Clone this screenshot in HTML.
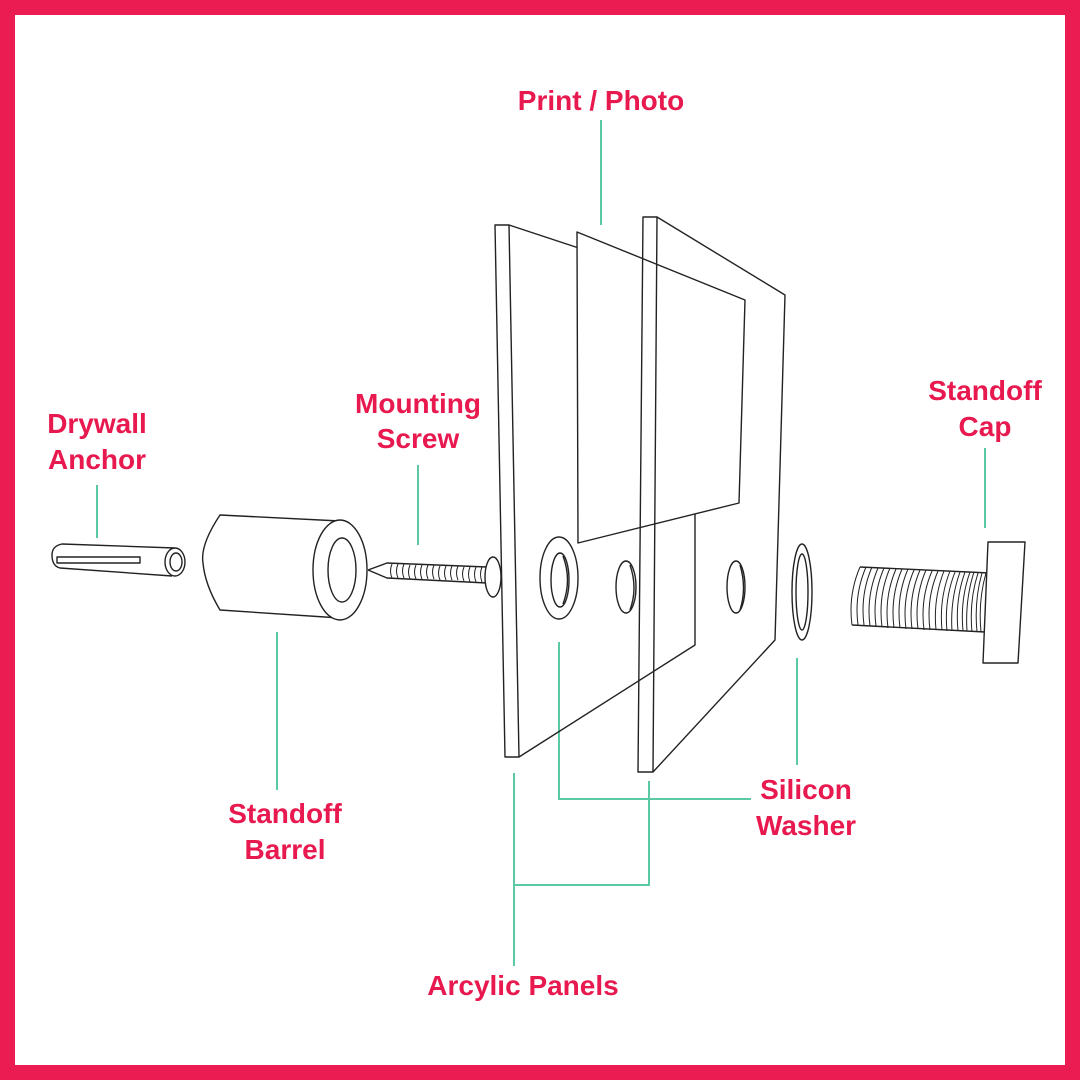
<!DOCTYPE html>
<html><head><meta charset="utf-8"><style>
html,body{margin:0;padding:0;background:#fff}
svg{display:block}
text{font-family:"Liberation Sans",sans-serif;font-weight:bold;font-size:28px;fill:#e8194f;text-anchor:middle}
</style></head><body>
<svg width="1080" height="1080" viewBox="0 0 1080 1080">
<rect x="7.5" y="7.5" width="1065" height="1065" fill="#fff" stroke="#ea1c51" stroke-width="15"/>
<g fill="none" stroke="#5cc9a4" stroke-width="2">
<line x1="601" y1="120" x2="601" y2="225"/>
<line x1="418" y1="465" x2="418" y2="545"/>
<line x1="97" y1="485" x2="97" y2="538"/>
<line x1="985" y1="448" x2="985" y2="528"/>
<line x1="277" y1="632" x2="277" y2="790"/>
<line x1="797" y1="658" x2="797" y2="765"/>
<polyline points="559,642 559,799 751,799"/>
<polyline points="514,773 514,966"/>
<polyline points="514,885 649,885 649,781"/>
</g>
<g fill="none" stroke="#222" stroke-width="1.4" stroke-linejoin="round">
<!-- panel 1 -->
<polygon points="495,225 509,225 519,757 505,757" fill="#fff"/>
<polyline points="509,225 600,255"/>
<polyline points="519,757 695,645 695,500"/>
<!-- print -->
<polygon points="577,232 745,300 739,503 578,543" fill="#fff"/>
<!-- holes panel 1 -->
<ellipse cx="559" cy="578" rx="19" ry="41"/>
<ellipse cx="560" cy="580" rx="9" ry="27"/>
<path d="M563,556 Q572,580 563,604"/>
<ellipse cx="626" cy="587" rx="10" ry="26"/>
<path d="M630,565 Q638,588 630,610"/>
<!-- panel 2 -->
<polygon points="643,217 657,217 653,772 638,772"/>
<polyline points="657,217 785,295 775,640 653,772"/>
<ellipse cx="736" cy="587" rx="9" ry="26"/>
<path d="M740,565 Q747,588 740,610"/>
<!-- washer -->
<ellipse cx="802" cy="592" rx="10" ry="48"/>
<ellipse cx="802" cy="592" rx="6" ry="38"/>
<!-- anchor -->
<path d="M175,548 L62,544 Q52,546 52,555 Q52,566 60,568 L172,576"/>
<rect x="57" y="557" width="83" height="6"/>
<ellipse cx="175" cy="562" rx="10" ry="14" fill="#fff"/>
<ellipse cx="176" cy="562" rx="6" ry="9"/>
<!-- barrel -->
<path d="M340,521 L220,515 Q200,545 203,563 Q205,585 220,610 L340,618"/>
<ellipse cx="340" cy="570" rx="27" ry="50" fill="#fff"/>
<ellipse cx="342" cy="570" rx="14" ry="32"/>
<!-- screw -->
<path d="M368,570 L387,563 L487,567 M368,570 L387,578 L487,583"/>
<path d="M392,564 q-3,7 0,14 M398,564 q-3,7 0,14 M404,564 q-3,7 0,14 M410,565 q-3,7 0,14 M416,565 q-3,7 0,14 M422,565 q-3,7 0,14 M428,565 q-3,7 0,14 M434,565 q-3,7 0,14 M440,566 q-3,7 0,14 M446,566 q-3,7 0,14 M452,566 q-3,7 0,14 M458,566 q-3,7 0,14 M464,567 q-3,7 0,14 M470,567 q-3,7 0,15 M476,567 q-3,7 0,15 M482,567 q-3,7 0,15" stroke-width="1"/>
<ellipse cx="493" cy="577" rx="8" ry="20" fill="#fff"/>
<!-- cap threads -->
<path d="M860,567 L990,573 M852,625 L985,632"/>
<g stroke-width="1">
<path d="M860,567 q-12,28 -8,58 M866,567 q-12,28 -8,58 M872,567 q-12,28 -8,58 M878,568 q-12,28 -8,58 M884,568 q-12,28 -8,58 M890,568 q-12,28 -8,59 M896,569 q-12,28 -8,59 M902,569 q-12,28 -8,59 M908,569 q-12,28 -8,59 M914,570 q-12,28 -8,59 M920,570 q-12,28 -8,59 M926,570 q-12,28 -8,59 M932,571 q-12,28 -8,59 M938,571 q-12,28 -8,59 M944,571 q-11,28 -8,59 M950,571 q-11,28 -8,59 M955,572 q-11,28 -8,59 M960,572 q-10,28 -8,59 M965,572 q-10,28 -7,59 M970,572 q-10,28 -7,59 M974,572 q-9,28 -7,59 M978,573 q-9,28 -6,59 M982,573 q-8,28 -5,59 M986,573 q-8,28 -5,59"/>
</g>
<polygon points="988,542 1025,542 1018,663 983,663" fill="#fff"/>
</g>
<text x="601" y="110">Print / Photo</text>
<text x="418" y="413">Mounting</text>
<text x="418" y="448">Screw</text>
<text x="97" y="433">Drywall</text>
<text x="97" y="469">Anchor</text>
<text x="985" y="400">Standoff</text>
<text x="985" y="436">Cap</text>
<text x="285" y="823">Standoff</text>
<text x="285" y="859">Barrel</text>
<text x="806" y="799">Silicon</text>
<text x="806" y="835">Washer</text>
<text x="523" y="995">Arcylic Panels</text>
</svg>
</body></html>
